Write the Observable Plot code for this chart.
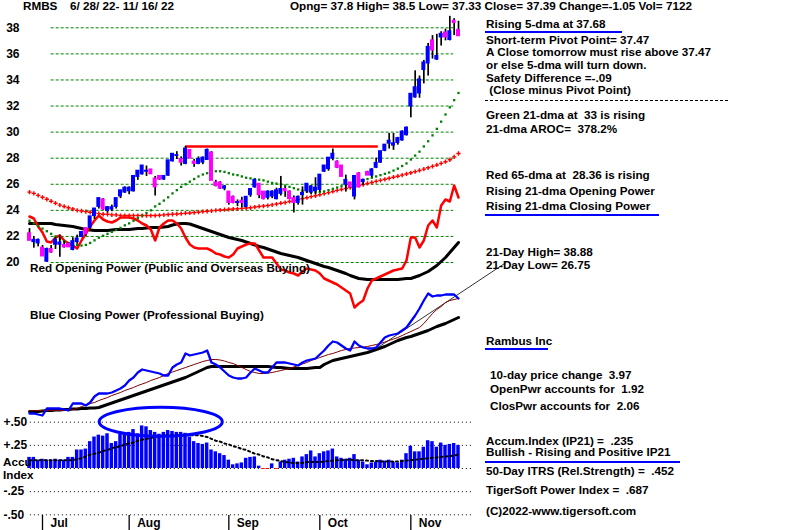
<!DOCTYPE html>
<html><head><meta charset="utf-8">
<script src="https://cdn.jsdelivr.net/npm/d3@7"></script>
<script src="https://cdn.jsdelivr.net/npm/@observablehq/plot@0.6"></script>
<style>
body{margin:0;background:#fff;}
#wrap{position:relative;width:800px;height:530px;overflow:hidden;font-family:"Liberation Sans",Arial,sans-serif;font-weight:bold;font-size:11.7px;color:#000;background:#fff;}
#wrap svg{position:absolute;left:0;top:0;}
.t{position:absolute;white-space:pre;line-height:14px;}
.u{position:absolute;height:2px;background:#0000ff;}
.d{position:absolute;height:0;border-top:1px dashed #000;}
</style></head><body><div id="wrap"></div>
<script>
// ---------- data ----------
const opens = [
22.2,21.6,21.5,21.1,20.1,21.0,21.4,21.4,21.3,21.4,
21.0,21.6,22.0,22.6,22.7,23.6,24.3,24.8,24.0,24.1,
24.3,25.1,25.4,25.5,25.5,26.6,26.8,27.0,27.1,26.4,
26.6,26.4,26.7,27.8,28.2,27.9,27.6,28.6,27.7,27.6,
27.7,27.9,28.4,26.1,26.1,25.7,25.4,25.0,24.6,24.7,
24.3,25.2,25.8,26.0,25.4,25.0,25.1,24.9,25.3,25.6,
25.4,24.9,24.6,25.2,25.5,25.4,25.5,25.6,27.0,27.2,
28.0,27.7,27.4,26.0,26.1,25.1,26.8,26.2,26.9,26.7,
27.3,27.7,28.6,29.15,29.0,29.2,29.4,29.8,32.0,32.7,
33.0,34.8,35.3,37.0,35.6,37.3,37.6,37.1,38.5,37.8];
const highs = [
22.6,22.0,21.8,21.3,21.1,21.3,21.9,22.1,21.6,21.5,
21.9,22.1,22.3,22.6,23.5,24.1,24.9,24.9,24.3,24.4,
24.9,25.5,25.8,25.8,26.6,27.0,27.4,27.4,27.1,26.6,
26.6,26.6,27.8,28.3,28.5,28.1,28.9,28.6,27.9,28.1,
28.1,28.7,28.5,26.3,26.2,25.9,25.4,25.1,24.8,25.0,
25.0,25.6,26.3,26.0,25.4,25.5,25.5,25.7,26.6,25.8,
25.5,25.1,25.1,25.8,26.0,25.9,26.5,26.7,27.4,28.0,
28.7,27.8,27.4,26.7,26.1,26.6,26.9,26.4,27.0,27.2,
28.0,28.5,29.0,29.9,29.9,29.6,30.1,30.4,32.9,34.7,
34.3,35.5,36.8,37.4,37.5,37.7,37.9,38.88,38.7,38.5];
const lows = [
21.7,21.1,21.2,20.5,20.0,20.7,21.0,20.4,21.1,21.2,
20.9,21.4,21.9,22.0,22.5,23.3,24.1,24.0,23.8,23.9,
24.1,24.9,25.3,25.2,25.4,26.3,26.7,26.6,26.8,25.1,
26.3,26.3,26.6,27.7,27.9,27.4,27.5,28.0,27.3,27.5,
27.5,27.9,26.3,25.8,25.6,25.5,24.4,24.5,24.3,24.2,
24.2,25.0,25.7,24.9,24.8,24.8,24.9,24.8,25.1,25.0,
24.9,23.8,24.4,24.4,25.3,25.2,25.2,25.4,26.9,27.0,
27.8,27.2,26.6,25.4,25.7,24.8,25.8,25.9,26.7,26.5,
27.2,27.6,28.5,28.7,28.6,29.0,29.3,29.7,31.1,32.6,
32.6,33.7,34.3,35.6,35.5,36.6,37.0,37.0,37.4,37.33];
const closes = [
21.7,21.7,21.7,20.5,21.0,20.8,21.7,21.5,21.2,21.2,
21.6,21.8,22.3,22.2,23.5,24.1,24.9,24.1,24.2,24.2,
24.9,25.5,25.7,25.7,26.6,27.0,27.4,27.0,26.8,25.8,
26.4,26.6,27.8,28.3,28.2,27.7,28.7,28.0,27.6,27.9,
28.0,28.6,26.3,25.9,25.7,25.8,24.6,24.6,24.6,24.6,
25.0,25.6,26.3,25.2,24.9,25.4,25.4,25.5,25.6,25.5,
24.9,24.6,25.0,25.3,26.0,25.8,25.7,26.7,27.4,28.0,
28.3,27.3,26.6,26.3,25.8,26.6,25.8,26.3,26.7,27.1,
27.6,28.5,29.0,29.3,29.1,29.5,30.0,30.3,32.9,33.4,
34.0,35.3,36.5,36.3,35.8,37.5,37.3,37.7,38.4,37.39];
const ma21 = [
23.2,23.0,22.8,22.6,22.4,22.2,22.0,21.8,21.65,21.5,
21.4,21.35,21.3,21.35,21.5,21.7,21.9,22.05,22.2,22.35,
22.5,22.65,22.85,23.0,23.2,23.4,23.6,23.8,24.0,24.3,
24.5,24.75,25.0,25.3,25.55,25.8,26.0,26.2,26.4,26.6,
26.75,26.85,26.95,27.0,27.0,26.95,26.85,26.75,26.7,26.6,
26.5,26.45,26.4,26.35,26.3,26.2,26.1,26.05,26.0,25.9,
25.8,25.7,25.6,25.5,25.45,25.4,25.4,25.4,25.45,25.55,
25.65,25.75,25.85,25.95,26.05,26.15,26.2,26.3,26.4,26.5,
26.6,26.7,26.8,26.9,27.05,27.2,27.4,27.6,27.9,28.2,
28.5,28.9,29.3,29.75,30.25,30.8,31.35,31.9,32.45,33.0];
const ma65 = [
25.4,25.3,25.15,25.0,24.85,24.7,24.55,24.4,24.3,24.2,
24.1,24.0,23.95,23.9,23.85,23.8,23.75,23.7,23.7,23.65,
23.65,23.6,23.6,23.6,23.6,23.6,23.6,23.6,23.6,23.6,
23.62,23.65,23.68,23.7,23.72,23.75,23.78,23.8,23.83,23.86,
23.9,23.93,23.96,24.0,24.02,24.05,24.08,24.1,24.12,24.15,
24.18,24.2,24.25,24.3,24.33,24.37,24.42,24.48,24.55,24.6,
24.68,24.75,24.82,24.9,24.97,25.05,25.12,25.2,25.28,25.36,
25.45,25.53,25.6,25.68,25.75,25.83,25.9,25.98,26.06,26.14,
26.22,26.3,26.38,26.46,26.54,26.62,26.7,26.79,26.88,26.97,
27.06,27.16,27.26,27.37,27.48,27.6,27.73,27.88,28.1,28.36];
// Opening power (red) and its average (black), arbitrary units
const openPower = [
104,102,94,88,79,78,83,85,80,77,
75,72,80,87,94,100,105,101,99,98,
100,103,103,103,102,100,97,95,91,80,
93,97,100,100,97,92,83,76,73,72,
72,72,70,67,66,64,63,66,72,74,
76,77,77,70,63,63,63,57,51,50,
48,47,45,49,52,51,50,47,42,40,
38,36,33,30,27,13,17,20,32,40,
42,44,46,48,50,51,52,60,83,83,
73,80,95,100,93,115,121,119,135,123];
const openPowerMA = [
97,97,97,97,97,97,96,95.5,95,94.5,
94,93,92,91,90.5,90,90,90,90,90.5,
91,91,91,91,91.5,92,92,92.5,93,93,
93,93.5,94,95.5,96.5,97,97,96.5,95,93.5,
92,90.5,89,87.5,86,84.5,83,82,81,80,
78.5,77,75.5,74,73,71.5,70,68.5,67,66,
65,64,63,61.5,60,58.5,57,55.5,54,53,
51.5,50,48.5,47,45,43.5,42,41.5,41,41,
41,41,41,41,41,41,41.5,42,42,43.5,
45,47,49,52,55,59,63,68,73,78];
// Closing power (blue), its short average (maroon), long average (black)
const closePower = [
7,7,6,5,12,12,12,12,11,10,
17,17,17,15,18,24,27,27,27,28,
30,32,35,40,43,48,51,50,49,48,
47,45,45,53,56,58,67,65,66,67,
68,70,58,56,53,49,45,43,42,42,
43,48,52,50,48,48,53,58,58,58,
57,56,55,58,60,61,62,66,70,75,
79,78,75,72,70,79,75,73,72,72,
73,78,83,85,86,87,90,93,99,105,
112,120,127,124,125,125,126,126,126,122];
const closePowerMA = [
10,10,10,10,10,10,10,10,10,10,
11,12,14,15,17,18,20,21.5,23,25,
26.5,28,30,31.5,33,35,36.5,38,40,41.5,
43,45,47,48.5,50,51.5,53,54.5,56,57.5,
59,60,61,61,60.5,59.5,58,57,55,53,
51,49,48,47,47,47.5,48,49,50,51,
52,53.5,55,56.5,58,60,61.5,63,64.5,66,
67,68.5,70,71,72,72.5,73,73.5,74,75,
76,77,78.5,80,81.5,83,85,87,89,91,
93,97,102,107,111,114,118,120,121,122];
const closePowerLong = [
9,9,9,9.5,10,10,10.5,10.5,11,11,
11.5,11.5,12,12,12.5,12.5,13,14.5,16,17.5,
19,20.5,22,23.5,25,26.5,28,29.5,31,32.5,
34,35.5,37,38.5,40,41.5,43,45,47,49,
51,53,54,54,54,54,54,54,54,54,
54,54,54,54,54,54,53.5,53,53,52.5,
52,52,52,52,52,52.5,53,53,56,58,
60,61,62,63,64,65,66,67,68,69.5,
71,72.5,74,76,78,80,81.5,83,84,85.5,
87,88.5,90,92,94,95.5,97,99,101,103];
const trendDays = [80.4, 110];
const trendValues = [73, 158];
// Accumulation index (IP21) and its average
const accum = [
0.12,0.12,0.09,0.10,0.09,0.09,0.10,0.09,0.09,0.12,
0.12,0.20,0.20,0.21,0.29,0.34,0.36,0.35,0.375,0.27,
0.29,0.37,0.375,0.39,0.42,0.375,0.46,0.45,0.41,0.39,
0.37,0.39,0.41,0.40,0.39,0.39,0.38,0.34,0.29,0.27,
0.26,0.275,0.20,0.18,0.16,0.14,0.09,0.04,0.05,0.06,
0.11,0.12,0.125,0.025,-0.01,-0.01,0.05,-0.01,0.07,0.09,
0.10,0.11,0.07,0.125,0.15,0.19,0.125,0.16,0.18,0.19,
0.21,0.125,0.11,0.10,0.11,0.15,0.09,0.07,0.04,0.06,
0.07,0.09,0.08,0.09,0.07,0.06,0.09,0.16,0.24,0.18,
0.18,0.23,0.30,0.29,0.23,0.275,0.25,0.26,0.27,0.25];
const accumMA = [
0.09,0.09,0.09,0.09,0.09,0.09,0.09,0.09,0.09,0.09,
0.09,0.10,0.11,0.13,0.15,0.16,0.17,0.19,0.20,0.22,
0.23,0.24,0.26,0.27,0.28,0.30,0.31,0.32,0.33,0.34,
0.35,0.355,0.36,0.36,0.36,0.36,0.36,0.36,0.36,0.36,
0.35,0.34,0.32,0.30,0.29,0.27,0.26,0.24,0.23,0.21,
0.20,0.18,0.16,0.15,0.13,0.12,0.10,0.09,0.08,0.07,
0.065,0.06,0.06,0.06,0.07,0.07,0.07,0.07,0.075,0.08,
0.085,0.09,0.09,0.095,0.095,0.09,0.09,0.09,0.085,0.08,
0.08,0.075,0.075,0.075,0.075,0.075,0.08,0.085,0.09,0.095,
0.10,0.105,0.11,0.115,0.12,0.125,0.13,0.135,0.14,0.15];
const priceTicks = [20,22,24,26,28,30,32,34,36,38];
const accumTicks = [-0.5,-0.25,0,0.25,0.5];
const accumTickLabels = ["-.50","-.25","","+.25","+.50"];
const monthTicks = [3,23,46,67,88];
const monthLabels = ["Jul","Aug","Sep","Oct","Nov"];
const resistanceLevel = [28.9];
const resistanceSpan = [36, 80.5];
const highlightCenter = [30.4, 0.5];
const highlightRadii = [14.2, 0.157];

// ---------- build ----------
const rows = d3.range(opens.length).map(i => ({
  i, o: opens[i], h: highs[i], l: lows[i], c: closes[i],
  m21: ma21[i], m65: ma65[i], op: openPower[i], opm: openPowerMA[i],
  cp: closePower[i], cpm: closePowerMA[i], cpl: closePowerLong[i],
  acc: accum[i], accm: accumMA[i]
}));
const trend = trendDays.map((d, k) => ({i: d, v: trendValues[k]}));

const W = 800, H = 530;
const xScale = {type: "linear", domain: [0, 99], range: [29, 458], axis: null};
const FONT = "Liberation Sans, Arial, sans-serif";
const wrap = document.getElementById("wrap");
function mk(y, marks, extra = {}) {
  const p = Plot.plot(Object.assign({
    width: W, height: H, margin: 0,
    x: xScale, y: Object.assign({axis: null}, y),
    style: {background: "transparent", overflow: "visible", fontFamily: FONT},
    marks
  }, extra));
  wrap.appendChild(p);
  return p;
}
const priceY = {domain: [20, 38], range: [262, 27.3]};
const green = "#008000", red = "#ff0000", blue = "#0000ff", magenta = "#ff00ff";

// price grid
mk(priceY, [
  Plot.ruleY(priceTicks, {y: d => d, x1: 5, x2: 97.9, stroke: green, strokeWidth: 1, strokeDasharray: "3,2"})
]);

// opening power panel
mk({domain: [0, 140], range: [320, 180]}, [
  Plot.line(rows, {x: "i", y: "opm", stroke: "#000", strokeWidth: 3}),
  Plot.line(rows, {x: "i", y: "op", stroke: red, strokeWidth: 2.5})
]);

// price marks
mk(priceY, [
  Plot.ruleY(resistanceLevel, {y: d => d, x1: resistanceSpan[0], x2: resistanceSpan[1], stroke: red, strokeWidth: 2.5}),
  Plot.dot(rows, {x: "i", y: "m65", symbol: "cross", r: 1.8, fill: red, stroke: null}),
  Plot.dot(rows, {x: "i", y: "m21", symbol: "square", r: 1.3, fill: green, stroke: null}),
  Plot.ruleX(rows, {x: "i", y1: "l", y2: "h", stroke: "#000", strokeWidth: 1.7}),
  Plot.rect(rows, {x1: d => d.i - 0.46, x2: d => d.i + 0.46, y1: "o", y2: "c",
    fill: d => d.c >= d.o ? blue : magenta, insetTop: -1, insetBottom: -1}),
  Plot.text(priceTicks, {y: d => d, text: d => String(d), frameAnchor: "left", textAnchor: "end", dx: 19,
    fontSize: 12, fontWeight: "bold", fontFamily: FONT, fill: "#000"})
]);

// closing power panel
mk({domain: [0, 140], range: [420, 280]}, [
  Plot.line(trend, {x: "i", y: "v", stroke: "#000", strokeWidth: 0.8}),
  Plot.line(rows, {x: "i", y: "cpl", stroke: "#000", strokeWidth: 3}),
  Plot.line(rows, {x: "i", y: "cpm", stroke: "#800000", strokeWidth: 1}),
  Plot.line(rows, {x: "i", y: "cp", stroke: blue, strokeWidth: 2.3})
]);

// accumulation panel
const accPlot = mk({domain: [-0.5, 0.5], range: [514.3, 421.7]}, [
  Plot.ruleY(accumTicks, {y: d => d, x1: 0.2, x2: 102.3, stroke: "#000", strokeWidth: 1, strokeDasharray: "1,3"}),
  Plot.rect(rows, {x1: d => d.i - 0.4, x2: d => d.i + 0.4, y1: 0, y2: "acc",
    fill: d => d.acc >= 0 ? blue : red}),
  Plot.line(rows, {x: "i", y: "accm", stroke: "#000", strokeWidth: 2, strokeDasharray: "2,3"}),
  Plot.text(accumTicks, {y: d => d, text: (d, k) => accumTickLabels[k], frameAnchor: "left", textAnchor: "start", dx: 3,
    fontSize: 12, fontWeight: "bold", fontFamily: FONT, fill: "#000"})
]);
{
  const sx = accPlot.scale("x"), sy = accPlot.scale("y");
  const cx = sx.apply(highlightCenter[0]), cy = sy.apply(highlightCenter[1]);
  d3.select(accPlot).append("ellipse")
    .attr("cx", cx).attr("cy", cy)
    .attr("rx", sx.apply(highlightCenter[0] + highlightRadii[0]) - cx)
    .attr("ry", cy - sy.apply(highlightCenter[1] + highlightRadii[1]))
    .attr("fill", "none").attr("stroke", blue).attr("stroke-width", 3);
}

// month axis
mk({domain: [0, 1]}, [
  Plot.ruleX(monthTicks, {x: d => d, stroke: "#000", strokeWidth: 1.3}),
  Plot.text(monthTicks, {x: d => d, text: (d, k) => monthLabels[k], frameAnchor: "middle", textAnchor: "start", dx: 8,
    fontSize: 12, fontWeight: "bold", fontFamily: FONT, fill: "#000"})
], {marginTop: 515, marginBottom: 0});

// ---------- text ----------
const texts = [
  ["RMBS", 23, 6.7],
  ["6/ 28/ 22- 11/ 16/ 22", 70, 6.7],
  ["Opng= 37.8 High= 38.5 Low= 37.33 Close= 37.39 Change=-1.05 Vol= 7122", 290, 6.7],
  ["Rising 5-dma at 37.68", 486, 24.3],
  ["Short-term Pivot Point= 37.47", 486, 40.7],
  ["A Close tomorrow must rise above 37.47", 486, 52.7],
  ["or else 5-dma will turn down.", 486, 65],
  ["Safety Difference =-.09", 486, 78.3],
  [" (Close minus Pivot Point)", 486, 90],
  ["Green 21-dma at  33 is rising", 486, 115],
  ["21-dma AROC=  378.2%", 486, 129.3],
  ["Red 65-dma at  28.36 is rising", 486, 175.7],
  ["Rising 21-dma Opening Power", 486, 191.7],
  ["Rising 21-dma Closing Power", 486, 206.7],
  ["21-Day High= 38.88", 486, 252.3],
  ["21-Day Low= 26.75", 486, 265],
  ["Rambus Inc", 486, 341.7],
  ["10-day price change  3.97", 490, 375],
  ["OpenPwr accounts for  1.92", 490, 389.3],
  ["ClosPwr accounts for  2.06", 490, 406],
  ["Accum.Index (IP21) =  .235", 486, 441],
  ["Bullish - Rising and Positive IP21", 486, 452.7],
  ["50-Day ITRS (Rel.Strength) =  .452", 486, 471.7],
  ["TigerSoft Power Index =  .687", 486, 490],
  ["(C)2022-www.tigersoft.com", 486, 511.7],
  ["Red Opening Power (Public and Overseas Buying)", 30, 268.7],
  ["Blue Closing Power (Professional Buying)", 30, 315],
  ["Accu", 3, 462.5],
  ["Index", 3, 475]
];
for (const [s, x, y] of texts) {
  const el = document.createElement("div");
  el.className = "t";
  el.textContent = s;
  el.style.left = x + "px";
  el.style.top = (y - 7.5) + "px";
  wrap.appendChild(el);
}
const underlines = [[485, 622, 32.3], [485, 659, 215.3], [485, 548, 349], [485, 680, 462]];
for (const [x1, x2, y] of underlines) {
  const el = document.createElement("div");
  el.className = "u";
  el.style.left = x1 + "px"; el.style.width = (x2 - x1) + "px"; el.style.top = (y - 1) + "px";
  wrap.appendChild(el);
}
{
  const el = document.createElement("div");
  el.className = "d";
  el.style.left = "485px"; el.style.width = "243px"; el.style.top = "100px";
  wrap.appendChild(el);
}
</script></body></html>
